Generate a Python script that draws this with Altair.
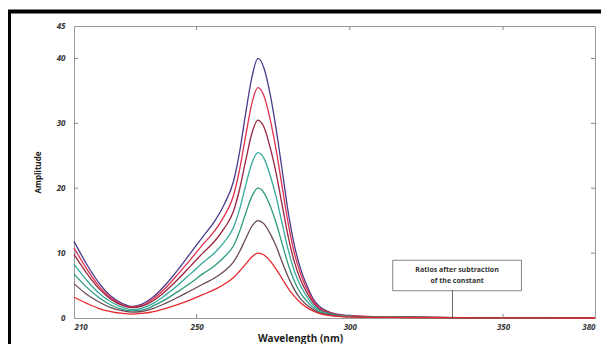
import altair as alt
import pandas as pd

# ---- data ----
wavelength = [210, 214, 218, 222, 226, 229, 232, 236, 240, 244, 248, 252, 256, 259, 262, 264, 266, 268,
              270, 272, 274, 276, 278, 280, 282, 284, 286, 288, 290, 293, 297, 302, 320, 340, 380]

amp_1 = [11.8, 8.4, 5.5, 3.4, 2.2, 1.8, 2.1, 3.3, 5.2, 7.5, 10.0, 12.5, 15.0, 17.5, 21.0, 25.5, 31.5, 37.0,
         40.0, 38.5, 34.5, 29.0, 22.5, 16.0, 11.0, 7.5, 5.0, 3.0, 1.8, 1.0, 0.5, 0.3, 0.15, 0.05, 0.0]
amp_2 = [10.8, 7.7, 5.0, 3.1, 2.0, 1.7, 1.9, 3.0, 4.7, 6.8, 9.0, 11.3, 13.5, 15.7, 18.8, 22.8, 28.0, 33.0,
         35.5, 34.2, 30.6, 25.8, 20.0, 14.3, 9.8, 6.7, 4.5, 2.7, 1.6, 0.9, 0.45, 0.28, 0.14, 0.05, 0.0]
amp_3 = [9.8, 7.0, 4.6, 2.9, 1.9, 1.6, 1.8, 2.7, 4.2, 6.0, 8.0, 10.0, 11.9, 13.8, 16.4, 19.8, 24.2, 28.4,
         30.5, 29.4, 26.3, 22.2, 17.2, 12.3, 8.5, 5.8, 3.9, 2.4, 1.4, 0.8, 0.4, 0.25, 0.12, 0.04, 0.0]
amp_4 = [8.3, 5.9, 3.9, 2.5, 1.6, 1.3, 1.5, 2.3, 3.6, 5.1, 6.8, 8.5, 10.1, 11.7, 13.9, 16.7, 20.4, 23.8,
         25.5, 24.6, 22.0, 18.6, 14.4, 10.3, 7.1, 4.9, 3.3, 2.0, 1.2, 0.7, 0.35, 0.22, 0.1, 0.04, 0.0]
amp_5 = [6.8, 4.8, 3.2, 2.0, 1.3, 1.1, 1.2, 1.9, 2.9, 4.1, 5.4, 6.8, 8.1, 9.4, 11.1, 13.3, 16.1, 18.7,
         20.0, 19.3, 17.3, 14.6, 11.3, 8.1, 5.6, 3.8, 2.6, 1.6, 1.0, 0.6, 0.3, 0.2, 0.1, 0.03, 0.0]
amp_6 = [5.3, 3.7, 2.5, 1.6, 1.1, 0.9, 1.0, 1.5, 2.3, 3.2, 4.2, 5.2, 6.2, 7.2, 8.6, 10.2, 12.2, 14.1,
         15.0, 14.5, 13.0, 11.0, 8.5, 6.2, 4.3, 2.9, 2.0, 1.3, 0.8, 0.5, 0.25, 0.17, 0.08, 0.03, 0.0]
amp_7 = [3.2, 2.3, 1.5, 1.0, 0.7, 0.6, 0.7, 1.0, 1.5, 2.1, 2.8, 3.6, 4.4, 5.2, 6.2, 7.2, 8.3, 9.4,
         10.0, 9.7, 8.8, 7.5, 6.0, 4.5, 3.3, 2.3, 1.6, 1.1, 0.7, 0.4, 0.2, 0.15, 0.07, 0.03, 0.0]

series_names = ["s1", "s2", "s3", "s4", "s5", "s6", "s7"]
series_values = [amp_1, amp_2, amp_3, amp_4, amp_5, amp_6, amp_7]
series_colors = ["#4b3a8c", "#e0304e", "#9a2540", "#35aa9c", "#2e9a80", "#6a4a55", "#e8282e"]

x_ticks = [210, 250, 300, 350, 380]
y_ticks = [0, 10, 20, 30, 40, 45]
inner_x_ticks = [250, 300, 350]
inner_y_ticks = [10, 20, 30, 40]

note_text = ["Ratios after subtraction", "of the constant"]
note_x = [314, 356]
note_y = [4.2, 8.9]
note_pointer_x = 333.5

# ---- build tables ----
rows = []
for name, vals in zip(series_names, series_values):
    for w, a in zip(wavelength, vals):
        rows.append({"wl": w, "amp": a, "series": name})
df = pd.DataFrame(rows)

W, H = 521, 292
x_scale = alt.Scale(domain=[210, 380], nice=False, zero=False)
y_scale = alt.Scale(domain=[0, 45], nice=False)
x_axis = alt.Axis(values=x_ticks, title="Wavelength (nm)", ticks=False, labelPadding=5,
                  titleX=226, titlePadding=2, grid=False)
y_axis = alt.Axis(values=y_ticks, title="Amplitude", ticks=False, labelPadding=9,
                  titlePadding=14, grid=False)


def X():
    return alt.X("wl:Q", scale=x_scale, axis=x_axis)


def Y():
    return alt.Y("amp:Q", scale=y_scale, axis=y_axis)


lines = alt.Chart(df).mark_line(strokeWidth=1.3, interpolate="monotone").encode(
    x=X(), y=Y(),
    color=alt.Color("series:N", scale=alt.Scale(domain=series_names, range=series_colors), legend=None),
    detail="series:N",
)

ytk = pd.DataFrame({"amp": inner_y_ticks})
xtk = pd.DataFrame({"wl": inner_x_ticks})
tick_style = dict(color="#888", strokeWidth=1)
left_ticks = alt.Chart(ytk).mark_rule(**tick_style).encode(y=Y(), x=alt.value(0), x2=alt.value(4))
right_ticks = alt.Chart(ytk).mark_rule(**tick_style).encode(y=Y(), x=alt.value(W - 4), x2=alt.value(W))
bottom_ticks = alt.Chart(xtk).mark_rule(**tick_style).encode(x=X(), y=alt.value(H - 4), y2=alt.value(H))
top_ticks = alt.Chart(xtk).mark_rule(**tick_style).encode(x=X(), y=alt.value(0), y2=alt.value(4))

box_df = pd.DataFrame({"wl": [note_x[0]], "wl2": [note_x[1]], "amp": [note_y[0]], "amp2": [note_y[1]]})
note_box = alt.Chart(box_df).mark_rect(fill="white", stroke="#666", strokeWidth=0.8).encode(
    x=X(), x2="wl2:Q", y=Y(), y2="amp2:Q")

ptr_df = pd.DataFrame({"wl": [note_pointer_x], "amp": [0.0], "amp2": [note_y[0]]})
note_ptr = alt.Chart(ptr_df).mark_rule(color="#444", strokeWidth=0.8).encode(
    x=X(), y=Y(), y2="amp2:Q")

txt_df = pd.DataFrame({"wl": [(note_x[0] + note_x[1]) / 2], "amp": [(note_y[0] + note_y[1]) / 2],
                       "label": ["\n".join(note_text)]})
note_txt = alt.Chart(txt_df).mark_text(font="Open Sans", fontSize=7, fontWeight="bold", color="#333",
                                       lineBreak="\n", lineHeight=11, baseline="middle", dy=-5).encode(
    x=X(), y=Y(), text="label:N")

frame_df = pd.DataFrame({"k": [0]})
frame = alt.Chart(frame_df).mark_rect(filled=False, stroke="black", strokeWidth=4, clip=False).encode(
    x=alt.value(-65), x2=alt.value(W + 60), y=alt.value(-14.5), y2=alt.value(H + 80))

chart = alt.layer(
    lines, left_ticks, right_ticks, bottom_ticks, top_ticks, note_box, note_ptr, note_txt, frame
).properties(
    width=W, height=H,
    autosize=alt.AutoSizeParams(type="none"),
    padding={"left": 66, "top": 18, "right": 6, "bottom": 26},
).configure_view(
    stroke="#999", strokeWidth=1
).configure_axis(
    domainColor="#999", domainWidth=1,
    labelFont="Open Sans", labelFontSize=8, labelFontWeight="bold", labelFontStyle="italic",
    labelColor="#333",
    titleFont="Open Sans", titleFontWeight="bold", titleColor="#222",
).configure_axisX(titleFontSize=10).configure_axisY(titleFontSize=8)

chart.save("out.html", embed_options={"renderer": "svg", "actions": False})
